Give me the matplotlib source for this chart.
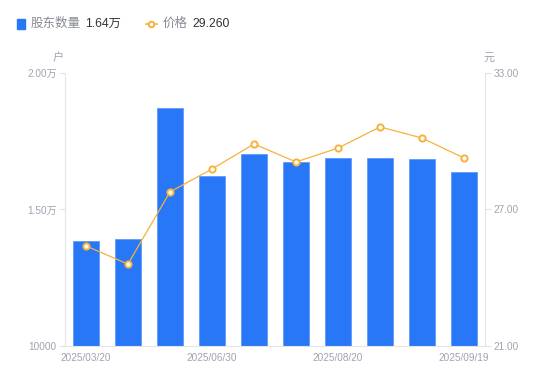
import matplotlib
matplotlib.use("Agg")
import matplotlib.pyplot as plt
from matplotlib.lines import Line2D
from matplotlib.patches import Rectangle

plt.rcParams['font.family'] = ['Liberation Sans', 'Noto Sans CJK SC', 'DejaVu Sans']

dates = ['2025/03/20', '2025/03/31', '2025/04/30', '2025/06/30', '2025/07/10',
         '2025/07/31', '2025/08/10', '2025/08/20', '2025/09/10', '2025/09/19']
holders = [13846, 13919, 18718, 16227, 17033, 16740, 16886, 16886, 16850, 16374]
price = [25.40, 24.60, 27.77, 28.78, 29.88, 29.09, 29.70, 30.63, 30.14, 29.26]
shown_ticks = [0, 3, 6, 9]
shown_labels = ['2025/03/20', '2025/06/30', '2025/08/20', '2025/09/19']

bar_color = '#2777F6'
line_color = '#F7B23B'
tick_color = '#A0A2B0'
axis_color = '#E3E4E8'

fig = plt.figure(figsize=(5.5, 3.81), dpi=100)
ax = fig.add_axes([0.118, 0.0919, 0.764, 0.7165])
ax2 = ax.twinx()

x = list(range(len(dates)))
ax.bar(x, holders, width=0.6, color=bar_color, edgecolor='#5E9BFA', linewidth=0.6, zorder=2)
ax.set_xlim(-0.5, len(dates) - 0.5)
ax.set_ylim(10000, 20000)
ax.set_yticks([10000, 15000, 20000])
ax.set_yticklabels(['10000', '1.50万', '2.00万'])
ax.set_xticks(shown_ticks)
ax.set_xticklabels(shown_labels)

ax2.plot(x, price, color=line_color, linewidth=0.9, marker='o', markersize=4.5,
         markerfacecolor='white', markeredgecolor=line_color, markeredgewidth=1.4, zorder=3)
ax2.set_ylim(21, 33)
ax2.set_yticks([21, 27, 33])
ax2.set_yticklabels(['21.00', '27.00', '33.00'])

for a in (ax, ax2):
    for s in a.spines.values():
        s.set_visible(False)
    a.tick_params(colors=tick_color, labelsize=7.2, length=4, width=0.8, color=axis_color)
ax.spines['left'].set_visible(True)
ax.spines['left'].set_color(axis_color)
ax.spines['bottom'].set_visible(True)
ax.spines['bottom'].set_color(axis_color)
ax2.spines['right'].set_visible(True)
ax2.spines['right'].set_color(axis_color)
ax.tick_params(axis='x', length=0, pad=5)
ax.tick_params(axis='y', pad=2)
ax2.tick_params(axis='y', pad=2)

fig.text(0.105, 0.84, '户', color=tick_color, fontsize=8, ha='center')
fig.text(0.89, 0.84, '元', color=tick_color, fontsize=8, ha='center')

# legend row
fig.patches.append(Rectangle((0.03, 0.925), 0.016, 0.024, transform=fig.transFigure,
                             color=bar_color, figure=fig))
fig.text(0.055, 0.937, '股东数量', color='#888a96', fontsize=9, va='center')
fig.text(0.155, 0.937, '1.64万', color='#333333', fontsize=8.8, va='center')
fig.lines.append(Line2D([0.265, 0.285], [0.937, 0.937], transform=fig.transFigure,
                        color=line_color, linewidth=1.2))
fig.lines.append(Line2D([0.275], [0.937], transform=fig.transFigure, color=line_color,
                        marker='o', markersize=4, markerfacecolor='white',
                        markeredgewidth=1.4))
fig.text(0.295, 0.937, '价格', color='#888a96', fontsize=9, va='center')
fig.text(0.349, 0.937, '29.260', color='#333333', fontsize=8.8, va='center')

plt.savefig('out.png', dpi=100)
